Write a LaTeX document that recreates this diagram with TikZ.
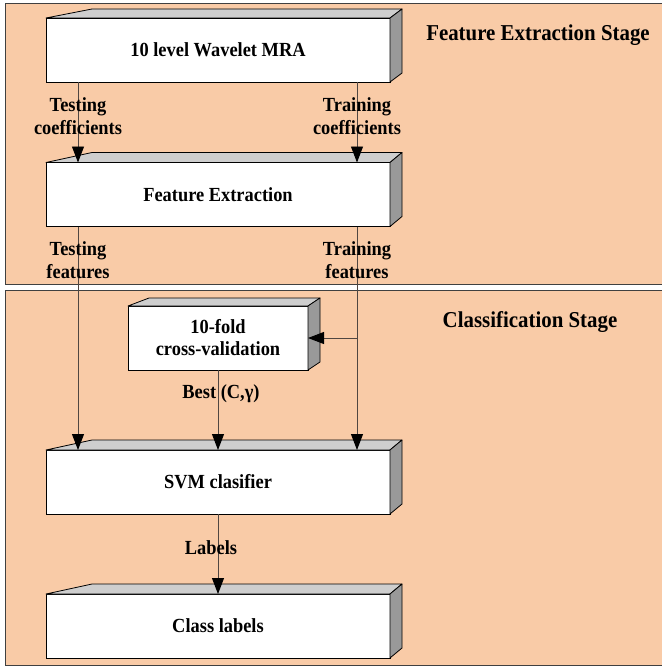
\documentclass[tikz,border=0pt]{standalone}
\usepackage{fontspec}
\setmainfont{Liberation Serif}[FakeStretch=0.92]
\usetikzlibrary{arrows.meta,calc}
\definecolor{peach}{RGB}{249,203,167}
\definecolor{topgray}{RGB}{206,206,206}
\definecolor{sidegray}{RGB}{153,153,153}
\definecolor{linec}{RGB}{80,70,65}
\tikzset{
  panel/.style={draw=black!75, fill=peach, line width=0.9pt},
  box/.style={draw=black, fill=white, line width=0.8pt, inner sep=0pt, outer sep=0pt,
    align=center, font=\bfseries\fontsize{20}{22}\selectfont},
  topface/.style={draw=black, fill=topgray, line width=0.8pt, line join=round},
  sideface/.style={draw=black, fill=sidegray, line width=0.8pt, line join=round},
  arr/.style={draw=linec, line width=0.9pt, -{Triangle[length=16pt,width=12pt,color=black]}},
  lbl/.style={align=center, inner sep=0pt, font=\bfseries\fontsize{20}{23}\selectfont},
  head/.style={inner sep=0pt, font=\bfseries\fontsize{22.7}{26}\selectfont}
}
\begin{document}
\begin{tikzpicture}[x=1pt,y=-1pt]
\useasboundingbox (0,0) rectangle (661,666);
% panels
\path[panel] (5,3) rectangle (670,284);
\path[panel] (5,290) rectangle (670,665);
\node[head] (h1) at (538,35) {Feature Extraction Stage};
\node[head] (h2) at (530,322) {Classification Stage};
% boxes
\node[box, minimum width=344pt, minimum height=64pt] (mra) at (218,50) {10 level Wavelet MRA};
\node[box, minimum width=344pt, minimum height=64pt] (fe) at (218,194.5) {Feature Extraction};
\node[box, minimum width=180pt, minimum height=64pt] (cv) at (218,338) {10-fold\\cross-validation};
\node[box, minimum width=344pt, minimum height=64pt] (svm) at (218,482) {SVM clasifier};
\node[box, minimum width=344pt, minimum height=64pt] (cls) at (218,626) {Class labels};
% 3D faces
\foreach \b/\s/\d in {mra/46/9, fe/46/10, svm/46/10, cls/46/10, cv/21/8}{
  \draw[topface] (\b.north west) -- ++(\s,-\d) -- ($(\b.north east)+(12,-\d)$) -- (\b.north east) -- cycle;
  \draw[sideface] (\b.north east) -- ++(12,-\d) -- ($(\b.south east)+(12,-\d)$) -- (\b.south east) -- cycle;
}
% columns
\coordinate (colL) at (78,0);
\coordinate (colR) at (357,0);
% connectors
\draw[arr] (mra.south -| colL) -- (fe.north -| colL);
\draw[arr] (mra.south -| colR) -- (fe.north -| colR);
\draw[arr] (fe.south -| colL) -- (svm.north -| colL);
\draw[arr] (fe.south -| colR) -- (svm.north -| colR);
\coordinate (br) at (colR |- cv.east);
\draw[arr] (br) -- (cv.east);
\draw[arr] (cv.south) -- (svm.north -| cv.south);
\draw[arr] (svm.south) -- (cls.north);
% labels
\node[lbl] (l1) at (78,116.5) {Testing\\coefficients};
\node[lbl] (l2) at (357,116.5) {Training\\coefficients};
\node[lbl] (l3) at (78,260) {Testing\\features};
\node[lbl] (l4) at (357,260) {Training\\features};
\node[lbl] (l5) at (221,394) {Best (C,γ)};
\node[lbl] (l6) at (211,548) {Labels};
\end{tikzpicture}
\end{document}
